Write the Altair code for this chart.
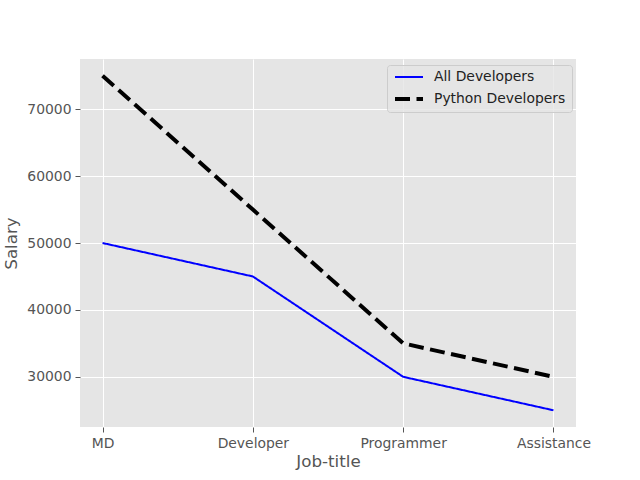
import altair as alt
import pandas as pd

job_titles = ["MD", "Developer", "Programmer", "Assistance"]
all_devs = [50000, 45000, 30000, 25000]
python_devs = [75000, 55000, 35000, 30000]
series_names = ["All Developers", "Python Developers"]

rows = []
for i, t in enumerate(job_titles):
    rows.append({"job": t, "salary": all_devs[i], "series": series_names[0]})
for i, t in enumerate(job_titles):
    rows.append({"job": t, "salary": python_devs[i], "series": series_names[1]})
df = pd.DataFrame(rows)

txt = "#555555"
legend = alt.Legend(
    title=None, orient="none", legendX=307, legendY=6,
    symbolType="stroke", symbolSize=784, labelFontSize=13.9, labelColor="#222222",
    labelFont="DejaVu Sans", fillColor="rgba(229,229,229,0.8)", strokeColor="#cccccc",
    padding=6, clipHeight=12, rowPadding=8, cornerRadius=3, labelOffset=9,
)

chart = alt.Chart(df).mark_line().encode(
    x=alt.X("job:N", sort=job_titles, title="Job-title",
            scale=alt.Scale(type="point", padding=0.15),
            axis=alt.Axis(labelAngle=0)),
    y=alt.Y("salary:Q", title="Salary",
            scale=alt.Scale(domain=[22500, 77500], nice=False, zero=False),
            axis=alt.Axis(values=[30000, 40000, 50000, 60000, 70000], format="d")),
    color=alt.Color("series:N", scale=alt.Scale(domain=series_names, range=["blue", "black"]), legend=legend),
    strokeDash=alt.StrokeDash("series:N", scale=alt.Scale(domain=series_names, range=[[1, 0], [15, 6.5]]), legend=legend),
    strokeWidth=alt.StrokeWidth("series:N", scale=alt.Scale(domain=series_names, range=[2, 4]), legend=legend),
    detail="series:N",
).properties(
    width=496, height=368,
    autosize=alt.AutoSizeParams(type="none"),
    padding={"left": 80, "top": 59, "right": 64, "bottom": 53},
).configure_view(
    fill="#E5E5E5", stroke=None
).configure_axis(
    domain=False, grid=True, gridColor="white", gridWidth=1,
    tickColor=txt, tickSize=5, tickWidth=1, labelPadding=4,
    labelColor=txt, labelFontSize=13.9, labelFont="DejaVu Sans",
    titleColor=txt, titleFontSize=16.7, titleFont="DejaVu Sans", titleFontWeight="normal",
).configure_axisX(titlePadding=4).configure_axisY(titlePadding=6)

chart.save("out.html", embed_options={"renderer": "svg", "actions": False})
